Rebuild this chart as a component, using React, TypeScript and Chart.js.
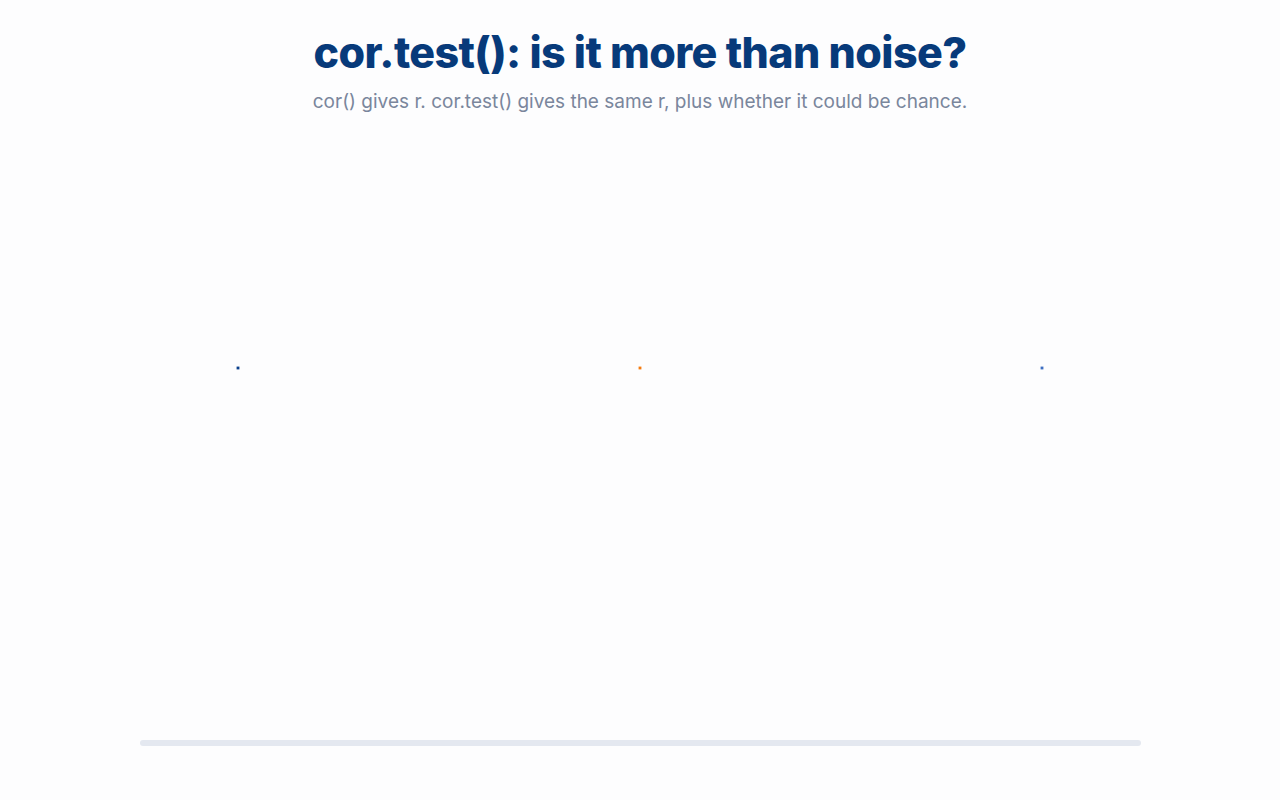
import { useEffect, useRef } from "react"
import { Chart, registerables } from "chart.js"

Chart.register(...registerables)

// três grupos, todos com r = 0 no momento da captura
const groups = ["cor()", "cor.test()", "p-value"]
const groupX = [0, 1, 2]
const groupValues = [0, 0, 0]
const groupColors = ["#0a3f8c", "#f47b0f", "#3d6fc2"]

function DotsChart() {
  const canvasRef = useRef<HTMLCanvasElement>(null)
  const chartRef = useRef<Chart | null>(null)

  useEffect(() => {
    if (!canvasRef.current) return
    if (chartRef.current) chartRef.current.destroy()

    chartRef.current = new Chart(canvasRef.current, {
      type: "scatter",
      data: {
        labels: groups,
        datasets: [
          {
            label: "r",
            data: groupX.map((x, i) => ({ x, y: groupValues[i] })),
            backgroundColor: groupColors,
            borderWidth: 0,
            pointRadius: 2,
            pointStyle: "rect",
          },
        ],
      },
      options: {
        animation: false,
        responsive: true,
        maintainAspectRatio: false,
        layout: { padding: { left: 37, right: 37, top: 0, bottom: 0 } },
        plugins: { legend: { display: false }, tooltip: { enabled: false } },
        scales: {
          x: { type: "linear", min: -0.5, max: 2.5, display: false },
          y: { min: -1, max: 1, display: false },
        },
      },
    })

    return () => {
      if (chartRef.current) chartRef.current.destroy()
    }
  }, [])

  return (
    <div style={{ position: "absolute", left: 0, top: 140, width: 1280, height: 456 }}>
      <canvas ref={canvasRef} />
    </div>
  )
}

export default function App() {
  return (
    <div
      style={{
        position: "fixed",
        inset: 0,
        width: 1280,
        height: 800,
        background: "#fdfdfe",
        fontFamily: "Inter, 'Open Sans', sans-serif",
      }}
    >
      <div
        style={{
          position: "absolute",
          top: 24,
          left: 0,
          width: 1280,
          textAlign: "center",
          fontSize: 43,
          fontWeight: 800,
          color: "#073a7a",
          lineHeight: "56px",
          letterSpacing: -0.6,
        }}
      >
        cor.test(): is it more than noise?
      </div>
      <div
        style={{
          position: "absolute",
          top: 90,
          left: 0,
          width: 1280,
          textAlign: "center",
          fontSize: 19,
          color: "#7a869c",
          lineHeight: "24px",
        }}
      >
        cor() gives r. cor.test() gives the same r, plus whether it could be chance.
      </div>
      <DotsChart />
      <div
        style={{
          position: "absolute",
          left: 140,
          top: 740,
          width: 1001,
          height: 6,
          borderRadius: 3,
          background: "#e4e8f0",
        }}
      />
    </div>
  )
}
